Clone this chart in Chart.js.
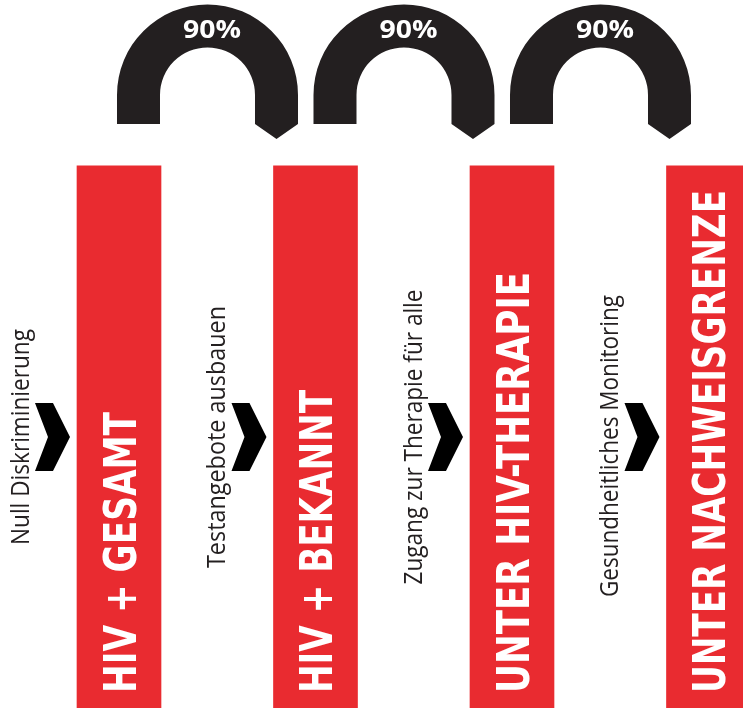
<!DOCTYPE html>
<html>
<head>
<meta charset="utf-8">
<script src="https://cdn.jsdelivr.net/npm/chart.js@4"></script>
<style>
  html, body { margin: 0; padding: 0; background: #ffffff; }
  #wrap { width: 743px; height: 708px; position: relative; }
</style>
</head>
<body>
<div id="wrap"><canvas id="c"></canvas></div>
<script>
// ---- data ----
const categories = ["HIV + GESAMT", "HIV + BEKANNT", "UNTER HIV-THERAPIE", "UNTER NACHWEISGRENZE"];
const barValues = [100, 100, 100, 100];
const stepLabels = ["Null Diskriminierung", "Testangebote ausbauen", "Zugang zur Therapie für alle", "Gesundheitliches Monitoring"];
const targetPercents = [90, 90, 90];

// ---- style ----
const RED = "#e92b30";
const DARK = "#231f20";
const barLabelLens = [281, 303, 421, 503];
const stepLabelLens = [216, 262, 295, 302];
const stepCenterY = [437, 437, 437, 446];

function fitText(ctx, text, len) {
  const w = ctx.measureText(text).width;
  return len / w;
}

const overlay = {
  id: "overlay",
  afterDatasetsDraw(chart) {
    const ctx = chart.ctx;
    const xs = chart.scales.x, ys = chart.scales.y;
    const bottom = ys.getPixelForValue(0);
    ctx.save();
    categories.forEach((cat, i) => {
      const cx = xs.getPixelForValue(i);
      const top = ys.getPixelForValue(barValues[i]);
      // bar label (rotated, reading upward)
      ctx.save();
      ctx.font = 'bold 44px "DejaVu Sans Condensed", "Liberation Sans Narrow", sans-serif';
      const s = fitText(ctx, cat, barLabelLens[i]);
      ctx.translate(cx + 17, bottom - 15);
      ctx.rotate(-Math.PI / 2);
      ctx.scale(s, 1);
      ctx.fillStyle = "#ffffff";
      ctx.textAlign = "left";
      ctx.textBaseline = "alphabetic";
      ctx.fillText(cat, 0, 0);
      ctx.restore();

      // chevron
      const chx = cx - 66.5, chy = top + 271;
      ctx.beginPath();
      ctx.moveTo(chx - 17.5, chy - 34);
      ctx.lineTo(chx + 0.5, chy - 34);
      ctx.lineTo(chx + 17.5, chy);
      ctx.lineTo(chx + 0.5, chy + 34);
      ctx.lineTo(chx - 17.5, chy + 34);
      ctx.lineTo(chx - 4.5, chy);
      ctx.closePath();
      ctx.fillStyle = "#000000";
      ctx.fill();

      // step label
      ctx.save();
      ctx.font = '25px "Open Sans", sans-serif';
      const s2 = fitText(ctx, stepLabels[i], stepLabelLens[i]);
      ctx.translate(cx - 90, stepCenterY[i]);
      ctx.rotate(-Math.PI / 2);
      ctx.scale(s2, 1);
      ctx.fillStyle = DARK;
      ctx.textAlign = "center";
      ctx.textBaseline = "alphabetic";
      ctx.fillText(stepLabels[i], 0, 0);
      ctx.restore();
    });

    // arcs
    targetPercents.forEach((p, i) => {
      const ax = xs.getPixelForValue(i) + 88.5;
      const top = ys.getPixelForValue(barValues[i]);
      const ay = top - 71;
      const Ro = 90.5, Ri = 47.5, legB = top - 42, tipY = top - 27;
      ctx.beginPath();
      ctx.moveTo(ax - Ro, legB);
      ctx.lineTo(ax - Ro, ay);
      ctx.arc(ax, ay, Ro, Math.PI, 0, false);
      ctx.lineTo(ax + Ro, legB);
      ctx.lineTo(ax + (Ro + Ri) / 2, tipY);
      ctx.lineTo(ax + Ri, legB);
      ctx.lineTo(ax + Ri, ay);
      ctx.arc(ax, ay, Ri, 0, Math.PI, true);
      ctx.lineTo(ax - Ri, legB);
      ctx.closePath();
      ctx.fillStyle = DARK;
      ctx.fill();

      ctx.save();
      ctx.font = 'bold 25px "Open Sans", sans-serif';
      const txt = p + "%";
      const s3 = fitText(ctx, txt, 58);
      ctx.translate(ax + 4.5, ay - 57);
      ctx.scale(s3, 1);
      ctx.fillStyle = "#ffffff";
      ctx.textAlign = "center";
      ctx.textBaseline = "alphabetic";
      ctx.fillText(txt, 0, 0);
      ctx.restore();
    });
    ctx.restore();
  }
};

new Chart(document.getElementById("c"), {
  type: "bar",
  data: {
    labels: categories,
    datasets: [{
      data: categories.map((c, i) => ({ x: i, y: barValues[i] })),
      backgroundColor: RED,
      borderWidth: 0,
      barThickness: 84
    }]
  },
  options: {
    responsive: true,
    maintainAspectRatio: false,
    animation: false,
    layout: { padding: 0 },
    plugins: { legend: { display: false }, tooltip: { enabled: false } },
    scales: {
      x: { type: "linear", min: -0.6056, max: 3.1756, offset: false, display: false },
      y: { min: 0, max: 130.6, display: false }
    }
  },
  plugins: [overlay]
});
</script>
</body>
</html>
